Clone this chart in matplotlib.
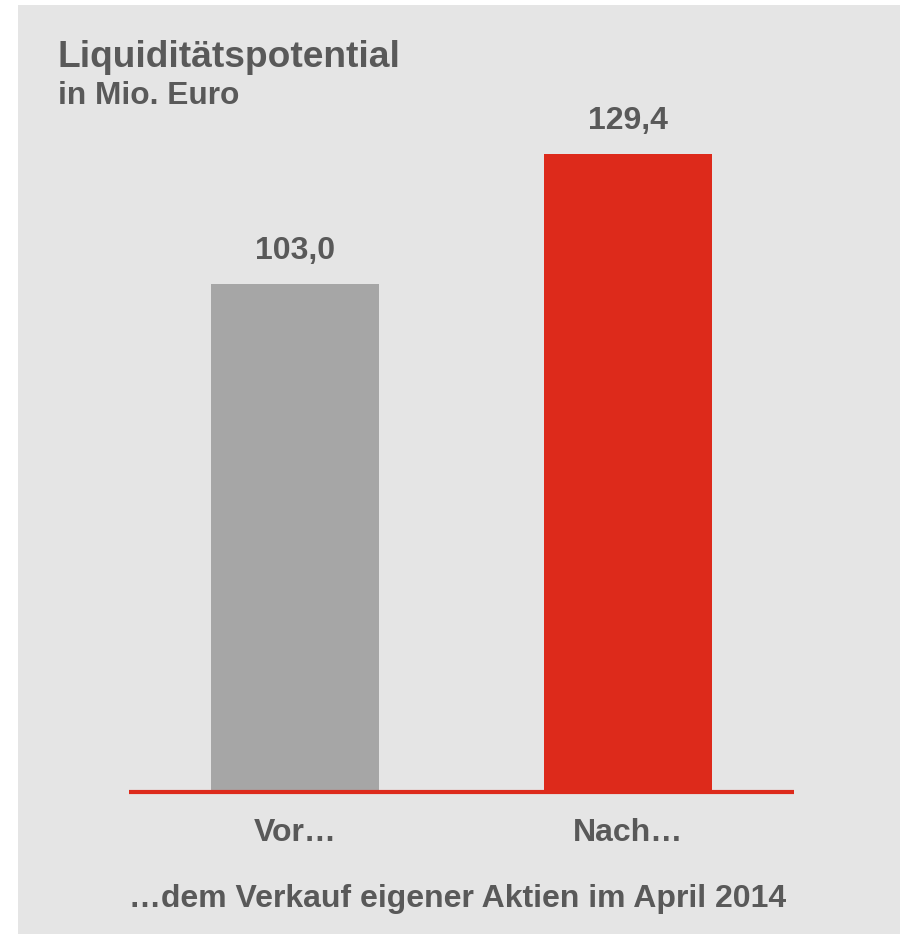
import matplotlib
matplotlib.use("Agg")
import matplotlib.pyplot as plt
from matplotlib.patches import Rectangle

# Werte in Mio. Euro
kategorien = ["Vor…", "Nach…"]
werte = [103.0, 129.4]
wert_labels = ["103,0", "129,4"]
farben = ["#a6a6a6", "#dd2a1b"]

titel = "Liquiditätspotential"
untertitel = "in Mio. Euro"
fusszeile = "…dem Verkauf eigener Aktien im April 2014"

textfarbe = "#595959"
hintergrund = "#e5e5e5"

plt.rcParams["font.family"] = ["Liberation Sans", "DejaVu Sans"]
plt.rcParams["font.weight"] = "bold"

W, H = 900, 934
fig = plt.figure(figsize=(W / 100, H / 100), dpi=100)
fig.patch.set_facecolor("white")

# grauer Kasten hinter dem Diagramm
fig.patches.append(Rectangle((18 / W, 0), 1 - 18 / W, (H - 5) / H,
                             transform=fig.transFigure, facecolor=hintergrund,
                             edgecolor="none", zorder=-1))

# Achse: links 128px, rechts 795px, Nulllinie bei 792px, oben 60px
x0, x1, yb, yt = 129, 794, 792, 60
ax = fig.add_axes([x0 / W, (H - yb) / H, (x1 - x0) / W, (yb - yt) / H])
ax.set_facecolor("none")
px_pro_einheit = 638 / 129.4
ax.set_ylim(0, (yb - yt) / px_pro_einheit)
ax.set_xlim(-0.497, 1.497)

pos = list(range(len(kategorien)))
bars = ax.bar(pos, werte, width=0.503, color=farben, zorder=2)
for b, lab in zip(bars, wert_labels):
    ax.annotate(lab, (b.get_x() + b.get_width() / 2, b.get_height()),
                xytext=(0, 13), textcoords="offset points", ha="center",
                va="bottom", fontsize=23, color=textfarbe, fontweight="bold")

for s in ["top", "left", "right"]:
    ax.spines[s].set_visible(False)
ax.spines["bottom"].set_color("#dd2a1b")
ax.spines["bottom"].set_linewidth(3)
ax.spines["bottom"].set_capstyle("butt")
ax.spines["bottom"].set_zorder(3)
ax.set_yticks([])
ax.set_xticks(pos)
ax.set_xticklabels(kategorien, fontsize=23, color=textfarbe, fontweight="bold")
ax.tick_params(axis="x", length=0, pad=19)

fig.text(58 / W, 1 - 67 / H, titel, fontsize=26.7, color=textfarbe,
         fontweight="bold", ha="left", va="baseline")
fig.text(58 / W, 1 - 104 / H, untertitel, fontsize=22.8, color=textfarbe,
         fontweight="bold", ha="left", va="baseline")
fig.text(458 / W, 1 - 907 / H, fusszeile, fontsize=23, color=textfarbe,
         fontweight="bold", ha="center", va="baseline")

fig.savefig("out.png", dpi=100, facecolor=fig.get_facecolor())
